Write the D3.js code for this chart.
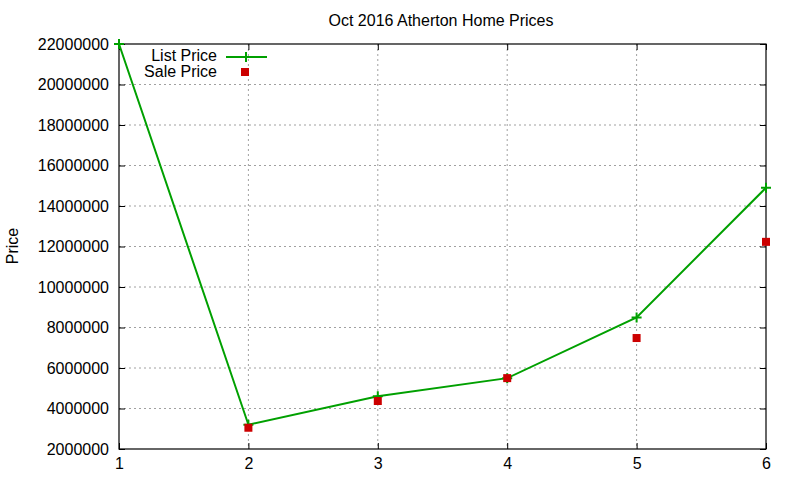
<!DOCTYPE html>
<html>
<head>
<meta charset="utf-8">
<script src="https://cdn.jsdelivr.net/npm/d3@7"></script>
<style>
  body { margin: 0; background: #fff; }
  text { font-family: "Liberation Sans", Arial, sans-serif; font-size: 16px; fill: #000; }
</style>
</head>
<body>
<div id="chart"></div>
<script>
var days = [1, 2, 3, 4, 5, 6];
var listPrice = [22000000, 3200000, 4600000, 5500000, 8500000, 14900000];
var saleDays = [2, 3, 4, 5, 6];
var salePrice = [3050000, 4370000, 5500000, 7480000, 12230000];
var yTicks = [2000000, 4000000, 6000000, 8000000, 10000000, 12000000, 14000000, 16000000, 18000000, 20000000, 22000000];

function init() {
    var w = 800, h = 480;
    var left = 119, right = 766, top = 44, bottom = 449;

    var svg = d3.select("#chart").append("svg")
                .attr("width", w)
                .attr("height", h);

    var x = d3.scaleLinear().domain([1, 6]).range([left, right]);
    var y = d3.scaleLinear().domain([2000000, 22000000]).range([bottom, top]);

    // grid
    svg.append("g").selectAll("line")
       .data(days.slice(1, -1))
       .enter().append("line")
       .attr("x1", d => x(d)).attr("x2", d => x(d))
       .attr("y1", top).attr("y2", bottom)
       .attr("stroke", "#a0a0a0").attr("stroke-dasharray", "2,3");
    svg.append("g").selectAll("line")
       .data(yTicks.slice(1, -1))
       .enter().append("line")
       .attr("x1", left).attr("x2", right)
       .attr("y1", d => y(d)).attr("y2", d => y(d))
       .attr("stroke", "#a0a0a0").attr("stroke-dasharray", "2,3");

    // axes with inward ticks (mirrored)
    svg.append("g").attr("transform", "translate(0," + bottom + ")")
       .call(d3.axisBottom(x).tickValues(days).tickSize(-6).tickPadding(9).tickFormat(d3.format("d")))
       .call(g => g.select(".domain").remove());
    svg.append("g").attr("transform", "translate(0," + top + ")")
       .call(d3.axisTop(x).tickValues(days).tickSize(-6).tickFormat(""))
       .call(g => g.select(".domain").remove());
    svg.append("g").attr("transform", "translate(" + left + ",0)")
       .call(d3.axisLeft(y).tickValues(yTicks).tickSize(-6).tickPadding(10).tickFormat(d3.format("d")))
       .call(g => g.select(".domain").remove());
    svg.append("g").attr("transform", "translate(" + right + ",0)")
       .call(d3.axisRight(y).tickValues(yTicks).tickSize(-6).tickFormat(""))
       .call(g => g.select(".domain").remove());
    svg.selectAll(".tick text").style("font-size", "16px").style("font-family", "Liberation Sans, Arial, sans-serif").attr("fill", "#000");
    svg.selectAll(".tick line").attr("stroke", "#000");

    svg.append("rect")
       .attr("x", left).attr("y", top)
       .attr("width", right - left).attr("height", bottom - top)
       .attr("fill", "none").attr("stroke", "#000").attr("stroke-width", 1.2);

    // title and y label
    svg.append("text").attr("x", 441).attr("y", 26).attr("text-anchor", "middle").text("Oct 2016 Atherton Home Prices");
    svg.append("text").attr("transform", "translate(18,246) rotate(-90)").attr("text-anchor", "middle").text("Price");

    // list price line
    var line = d3.line().x(d => x(d[0])).y(d => y(d[1]));
    var listData = days.map((d, i) => [d, listPrice[i]]);
    svg.append("path").datum(listData)
       .attr("d", line).attr("fill", "none")
       .attr("stroke", "#00a000").attr("stroke-width", 2);

    function plus(g, cx, cy) {
        g.append("path")
         .attr("d", "M" + (cx - 5) + "," + cy + "H" + (cx + 5) + "M" + cx + "," + (cy - 5) + "V" + (cy + 5))
         .attr("stroke", "#00a000").attr("stroke-width", 2);
    }
    var pts = svg.append("g");
    listData.forEach(d => plus(pts, x(d[0]), y(d[1])));

    // sale price squares
    svg.append("g").selectAll("rect")
       .data(saleDays.map((d, i) => [d, salePrice[i]]))
       .enter().append("rect")
       .attr("x", d => x(d[0]) - 4).attr("y", d => y(d[1]) - 4)
       .attr("width", 8).attr("height", 8)
       .attr("fill", "#cc0000");

    // legend
    var lg = svg.append("g");
    lg.append("text").attr("x", 217).attr("y", 61).attr("text-anchor", "end").text("List Price");
    lg.append("line").attr("x1", 226).attr("x2", 267).attr("y1", 57).attr("y2", 57)
      .attr("stroke", "#00a000").attr("stroke-width", 2);
    plus(lg, 246, 57);
    lg.append("text").attr("x", 217).attr("y", 77).attr("text-anchor", "end").text("Sale Price");
    lg.append("rect").attr("x", 241).attr("y", 68).attr("width", 8).attr("height", 8).attr("fill", "#cc0000");
}

window.onload = init;
</script>
</body>
</html>
